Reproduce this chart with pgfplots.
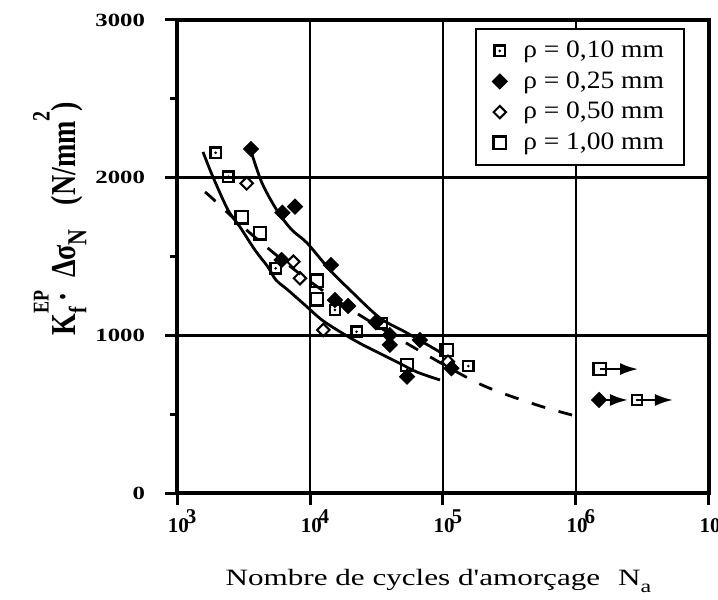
\documentclass[border=0pt]{standalone}
\usepackage{pgfplots}
\pgfplotsset{compat=1.18}
\usetikzlibrary{arrows.meta}
\usepackage{graphicx}
\usepackage{fontspec}
\setmainfont{Liberation Serif}
\newfontfamily\widefont[FakeStretch=1.33]{Liberation Serif}
\newfontfamily\legfont[FakeStretch=1.1]{Liberation Serif}

\pgfdeclareplotmark{sqdot}{%
  \pgfpathrectangle{\pgfqpoint{-\pgfplotmarksize}{-\pgfplotmarksize}}{\pgfqpoint{2\pgfplotmarksize}{2\pgfplotmarksize}}%
  \pgfusepathqstroke
  \pgfpathcircle{\pgfpointorigin}{0.28\pgfplotmarksize}%
  \pgfusepathqfill}

\newcommand\tl[1]{10\hspace{-1.5pt}\raisebox{4.5pt}{#1}}
\newcommand\ylab{\scalebox{1}[1.25]{\bfseries K\rlap{\raisebox{0.78em}{\fontsize{9}{9}\selectfont EP}}\raisebox{-0.3em}{\fontsize{10}{10}\selectfont f}\hspace{3pt}\raisebox{0.3em}{.}\hspace{8pt}Δσ\raisebox{-0.3em}{\fontsize{11}{11}\selectfont N}\hspace{12pt}(N/mm\raisebox{0.75em}{\fontsize{10}{10}\selectfont 2})}}

\begin{document}
\begin{tikzpicture}
\begin{axis}[
  at={(0,0)}, anchor=south west,
  width=266pt, height=236.5pt, scale only axis,
  xmode=log, xmin=1e3, xmax=1e7, ymin=0, ymax=3000,
  xtick={1e3,1e4,1e5,1e6,1e7},
  xticklabels={\tl{3},\tl{4},\tl{5},\tl{6},\tl{7}},
  xminorticks=false,
  ytick={0,1000,2000,3000},
  yticklabels={0,1000,2000,3000},
  minor ytick={500,1500,2500},
  grid=major,
  major grid style={line width=1.2pt, black},
  axis line style={line width=2pt},
  tick align=outside, tick pos=left,
  major tick length=6pt, minor tick length=3.5pt,
  tick style={line width=1.5pt, black},
  minor tick style={line width=1.5pt, black},
  yticklabel style={font=\widefont\bfseries\fontsize{9.3}{10}\selectfont, xshift=-6.5pt},
  xticklabel style={font=\bfseries\fontsize{10.5}{11}\selectfont, anchor=north, xshift=2.5pt, yshift=1pt},
  xlabel={Nombre de cycles d'amorçage\hspace{9pt}N\raisebox{-0.3em}{\fontsize{9}{9}\selectfont a}},
  xlabel style={font=\widefont\fontsize{11.7}{13}\selectfont, at={(axis description cs:0.4915,-0.1945)}, anchor=base},
  ylabel={\ylab},
  ylabel style={font=\fontsize{14}{15}\selectfont, at={(axis description cs:-0.19,0.58)}, anchor=base},
  legend style={at={(0.955,0.983)}, anchor=north east, draw=black, line width=1pt,
    font=\legfont\fontsize{12.5}{15}\selectfont, row sep=1.5pt, column sep=6pt, inner xsep=8pt, inner ysep=4pt},
  legend cell align=left,
]
% fitted curves
\addplot[black, line width=1.4pt, smooth, forget plot] coordinates {
 (3539,2188) (4356,1966) (5746,1782) (7323,1668) (9493,1586) (14140,1414)
 (19990,1287) (33600,1110) (53620,1015) (94930,894)};
\addplot[black, line width=1.4pt, smooth, forget plot] coordinates {
 (1568,2163) (1865,2004) (2418,1795) (2977,1687) (3858,1541) (4833,1433)
 (5546,1351) (6833,1287) (9170,1192) (12310,1097) (17400,1015) (25030,939)
 (45100,831) (63750,767) (94930,717)};
\addplot[black, line width=1.4pt, smooth, dash pattern=on 7pt off 7pt, forget plot] coordinates {
 (1624,1909) (1865,1865) (3539,1649) (8410,1389) (19990,1167) (59480,926)
 (189700,691) (509000,558) (1000000,488)};
% run-out arrows
\addplot[black, line width=1.2pt, -{Latex[length=9pt,width=6pt]}, forget plot] coordinates {(1.51e6,786) (2.93e6,786)};
\addplot[black, line width=1.2pt, -{Latex[length=9pt,width=6pt]}, forget plot] coordinates {(1.49e6,590) (2.46e6,590)};
\addplot[black, line width=1.2pt, -{Latex[length=9pt,width=6pt]}, forget plot] coordinates {(2.88e6,590) (5.36e6,590)};
% rho = 0.10
\addplot[only marks, mark=sqdot, mark size=2.6pt, mark options={draw=black, fill=black, line width=1.2pt}] coordinates {
 (1954,2158) (2432,2006) (5521,1425) (15400,1161) (22400,1023) (34500,1076) (155000,805) (2.88e6,590)};
\addlegendentry{ρ = 0,10 mm}
% rho = 0.25
\addplot[only marks, mark=square*, mark size=2.65pt, mark options={rotate=45, draw=black, fill=black, line width=0.5pt}] coordinates {
 (3600,2182) (6200,1778) (7715,1816) (6120,1478) (14370,1446) (15400,1224) (19350,1186)
 (31300,1083) (39800,1002) (39800,940) (67000,970) (53700,738) (115800,791) (1.49e6,590)};
\addlegendentry{ρ = 0,25 mm}
% rho = 0.50
\addplot[only marks, mark=square, mark size=2.2pt, mark options={rotate=45, draw=black, line width=1pt}] coordinates {
 (3344,1964) (7500,1467) (8400,1362) (12600,1034) (109000,833)};
\addlegendentry{ρ = 0,50 mm}
% rho = 1.00
\addplot[only marks, mark=square, mark size=3.1pt, mark options={draw=black, line width=1.2pt}] coordinates {
 (3060,1749) (4208,1647) (11200,1347) (11200,1228) (53700,812) (106700,907) (1.51e6,786)};
\addlegendentry{ρ = 1,00 mm}
\end{axis}
\pgfresetboundingbox
\path (-88.5pt,-53.5pt) rectangle (270.5pt,246.5pt);
\end{tikzpicture}
\end{document}
